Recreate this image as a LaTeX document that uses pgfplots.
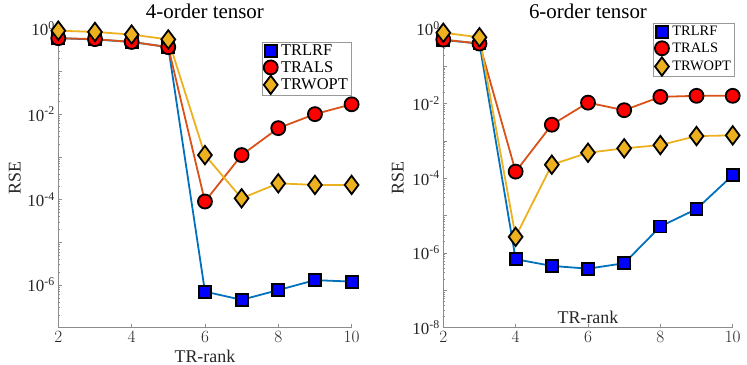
\documentclass[border=0pt]{standalone}
\usepackage{fontspec}
\setmainfont{Liberation Serif}
\usepackage{pgfplots}
\pgfplotsset{compat=1.18}

\definecolor{lrfline}{rgb}{0,0.447,0.741}
\definecolor{alsline}{rgb}{0.85,0.325,0.098}
\definecolor{woptc}{rgb}{0.929,0.694,0.125}

\pgfplotsset{
  lrf/.style={color=lrfline, line width=1.8bp, mark=square*, mark size=6bp,
    mark options={fill=blue, draw=black, line width=1.8bp}},
  als/.style={color=alsline, line width=1.8bp, mark=*, mark size=7bp,
    mark options={fill=red, draw=black, line width=1.8bp}},
  wopt/.style={color=woptc, line width=1.8bp, mark=diamond*, mark size=9.2bp,
    mark options={fill=woptc, draw=black, line width=1.8bp}},
}

\begin{document}
\begin{tikzpicture}
\path[use as bounding box] (0bp,0bp) rectangle (747bp,365bp);

% 4-order tensor
\begin{axis}[
  scale only axis,
  ymode=log,
  at={(58.3bp,37.3bp)}, anchor=south west,
  width=293.3bp, height=299bp,
  xmin=2, xmax=10, ymin=1e-7, ymax=1,
  xtick={2,4,6,8,10},
  ytick={1e-7,1e-6,1e-5,1e-4,1e-3,1e-2,1e-1,1},
  yticklabels={,10\textsuperscript{-6},,10\textsuperscript{-4},,10\textsuperscript{-2},,10\textsuperscript{0}},
  axis x line*=bottom, axis y line*=left,
  axis line style={black!45, line width=0.6bp},
  tick style={black!45, line width=0.5bp},
  tick align=inside, major tick length=4bp, minor tick length=2bp,
  ticklabel style={font=\fontsize{17}{17}\selectfont, text=black!85},
  clip=false,
  title={4-order tensor},
  title style={font=\fontsize{21}{21}\selectfont, at={(axis description cs:0.5,1.037)}, anchor=center},
  xlabel={TR-rank},
  xlabel style={font=\fontsize{18}{18}\selectfont, text=black!85, at={(axis description cs:0.5,-0.095)}, anchor=center},
  ylabel={RSE},
  ylabel style={font=\fontsize{18}{18}\selectfont, text=black!85, at={(axis description cs:-0.148,0.5)}, anchor=center},
  legend cell align=left,
  legend style={draw=black!40, line width=0.6bp, fill=white, inner sep=1bp, row sep=0bp,
    at={(axis description cs:1,0.9565)}, anchor=north east,
    font=\fontsize{16.5}{16.5}\selectfont, nodes={inner xsep=2.5bp}},
  legend image code/.code={
    \draw[mark repeat=2, mark phase=2] plot coordinates {(0bp,0bp) (7bp,0bp) (14bp,0bp)};},
]
\addplot[lrf] coordinates {(2,0.6) (3,0.56) (4,0.49) (5,0.37) (6,7e-7) (7,4.5e-7) (8,7.6e-7) (9,1.3e-6) (10,1.2e-6)};
\addplot[als] coordinates {(2,0.6) (3,0.57) (4,0.49) (5,0.37) (6,9e-5) (7,1.1e-3) (8,4.7e-3) (9,1e-2) (10,1.7e-2)};
\addplot[wopt] coordinates {(2,0.9) (3,0.84) (4,0.73) (5,0.56) (6,1.1e-3) (7,1.07e-4) (8,2.4e-4) (9,2.2e-4) (10,2.2e-4)};
\legend{TRLRF,TRALS,TRWOPT}
\end{axis}

% 6-order tensor
\begin{axis}[
  scale only axis,
  ymode=log,
  at={(443.3bp,37.3bp)}, anchor=south west,
  width=289.4bp, height=299bp,
  xmin=2, xmax=10, ymin=1e-8, ymax=1,
  xtick={2,4,6,8,10},
  ytick={1e-8,1e-7,1e-6,1e-5,1e-4,1e-3,1e-2,1e-1,1},
  yticklabels={10\textsuperscript{-8},,10\textsuperscript{-6},,10\textsuperscript{-4},,10\textsuperscript{-2},,10\textsuperscript{0}},
  axis x line*=bottom, axis y line*=left,
  axis line style={black!45, line width=0.6bp},
  tick style={black!45, line width=0.5bp},
  tick align=inside, major tick length=4bp, minor tick length=2bp,
  ticklabel style={font=\fontsize{17}{17}\selectfont, text=black!85},
  clip=false,
  title={6-order tensor},
  title style={font=\fontsize{21}{21}\selectfont, at={(axis description cs:0.5,1.037)}, anchor=center},
  xlabel={TR-rank},
  xlabel style={font=\fontsize{18}{18}\selectfont, text=black!85, at={(axis description cs:0.5,0.035)}, anchor=center},
  ylabel={RSE},
  ylabel style={font=\fontsize{18}{18}\selectfont, text=black!85, at={(axis description cs:-0.157,0.5)}, anchor=center},
  legend cell align=left,
  legend style={draw=black!40, line width=0.6bp, fill=white, inner sep=1bp, row sep=1.5bp,
    at={(axis description cs:1.007,1.019)}, anchor=north east,
    font=\fontsize{14.5}{14.5}\selectfont, nodes={inner xsep=2.5bp}},
  legend image code/.code={
    \draw[mark repeat=2, mark phase=2] plot coordinates {(0bp,0bp) (7bp,0bp) (14bp,0bp)};},
]
\addplot[lrf] coordinates {(2,0.5) (3,0.4) (4,6.8e-7) (5,4.5e-7) (6,3.8e-7) (7,5.3e-7) (8,5.1e-6) (9,1.5e-5) (10,1.2e-4)};
\addplot[als] coordinates {(2,0.51) (3,0.4) (4,1.5e-4) (5,2.7e-3) (6,1.05e-2) (7,6.6e-3) (8,1.5e-2) (9,1.6e-2) (10,1.6e-2)};
\addplot[wopt] coordinates {(2,0.78) (3,0.59) (4,2.7e-6) (5,2.3e-4) (6,4.8e-4) (7,6.3e-4) (8,7.7e-4) (9,1.34e-3) (10,1.4e-3)};
\legend{TRLRF,TRALS,TRWOPT}
\end{axis}
\end{tikzpicture}
\end{document}
